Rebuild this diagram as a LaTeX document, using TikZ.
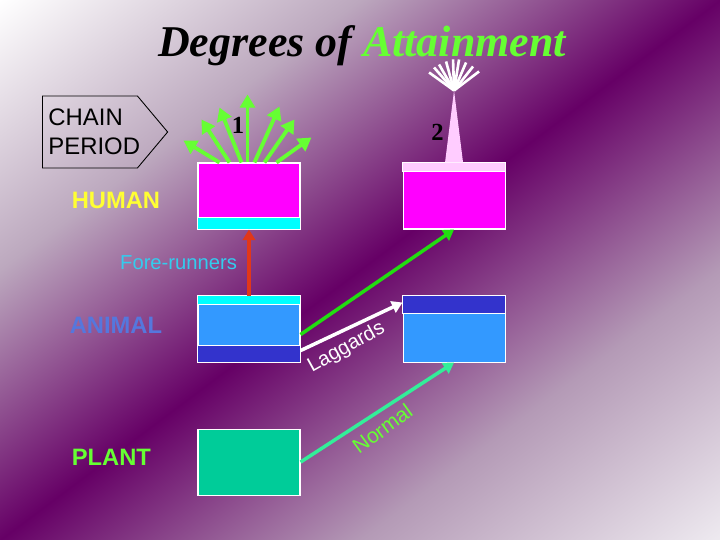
\documentclass[tikz,border=0pt]{standalone}
\usepackage{fontspec}
\setmainfont{Liberation Sans}
\newfontfamily\titlefont{Liberation Serif}
\usetikzlibrary{positioning, arrows.meta, shapes.symbols, calc}
\definecolor{bandpurple}{RGB}{102, 0, 102}
\definecolor{cornerlight}{RGB}{238, 234, 240}
\definecolor{upperlilac}{RGB}{188, 168, 190}
\definecolor{lowerlilac}{RGB}{180, 154, 182}
\definecolor{attaingreen}{RGB}{102, 255, 51}
\definecolor{humanmagenta}{RGB}{255, 0, 255}
\definecolor{stripcyan}{RGB}{0, 255, 255}
\definecolor{spirepink}{RGB}{255, 204, 255}
\definecolor{animallight}{RGB}{51, 153, 255}
\definecolor{animaldark}{RGB}{51, 51, 204}
\definecolor{plantgreen}{RGB}{0, 204, 153}
\definecolor{humanyellow}{RGB}{255, 255, 51}
\definecolor{animaltext}{RGB}{85, 119, 221}
\definecolor{forecyan}{RGB}{51, 204, 238}
\definecolor{forered}{RGB}{225, 55, 25}
\definecolor{risegreen}{RGB}{34, 221, 17}
\definecolor{normalgreen}{RGB}{51, 238, 153}
\pgfdeclareverticalshading{bgband}{100bp}{color(0bp)=(cornerlight); color(25bp)=(cornerlight);
    color(37.5bp)=(lowerlilac); color(50bp)=(bandpurple); color(62.5bp)=(upperlilac);
    color(75bp)=(white); color(100bp)=(white)}

\begin{document}
\begin{tikzpicture}[
    node distance=1.32cm and 2.04cm,
    box/.style={rectangle, draw=white, line width=0.6pt, minimum width=2.04cm, minimum height=1.32cm, inner sep=0pt},
    strip/.style={draw=white, line width=0.6pt},
    lbl/.style={font=\fontsize{13.5}{16}\selectfont\bfseries, inner sep=0pt},
    note/.style={font=\fontsize{11.5}{13}\selectfont, inner sep=1pt},
    num/.style={font=\titlefont\fontsize{14}{16}\selectfont\bfseries, inner sep=0pt},
    chain/.style={shape=signal, signal to=east, signal pointer angle=100, draw=black, line width=0.5pt,
                  minimum height=1.44cm, text width=1.66cm, align=left, inner xsep=0.12cm,
                  font=\fontsize{13.6}{16.4}\selectfont},
    arrow/.style={-{Triangle[length=6pt, width=7pt]}, line width=2pt},
    fanarrow/.style={-{Triangle[length=7.5pt, width=8.5pt]}, line width=2.2pt, attaingreen},
    spoke/.style={white, line width=1.5pt},
]

% ============ background ============
\useasboundingbox (0,0) rectangle (14.4,-10.8);
\begin{scope}
    \clip (0,0) rectangle (14.4,-10.8);
    \begin{scope}[transform canvas={rotate around={36.87:(7.2,-5.4)}}]
        \shade[shading=bgband] (-1.8,-14.04) rectangle (16.2,3.24);
    \end{scope}
\end{scope}

% ============ title ============
\node[font=\titlefont\fontsize{25}{30}\selectfont\bfseries\itshape, anchor=base] (title) at (7.24,-1.14)
    {Degrees of \textcolor{attaingreen}{Attainment}};

\node[chain, anchor=west] (chain) at (0.84,-2.64) {CHAIN\\PERIOD};

% ============ boxes ============
\node[box, fill=humanmagenta] (hum1) at (4.98,-3.92) {};
\node[box, fill=humanmagenta, right=of hum1] (hum2) {};
\node[box, fill=animallight, below=of hum1] (ani1) {};
\node[box, fill=animallight, right=of ani1] (ani2) {};
\node[box, fill=plantgreen, below=of ani1] (plant) {};

% strips
\filldraw[strip, fill=stripcyan] (hum1.south west) rectangle ([yshift=0.24cm]hum1.south east);
\filldraw[strip, fill=spirepink] (hum2.north west) rectangle ([yshift=-0.18cm]hum2.north east);
\filldraw[strip, fill=stripcyan] (ani1.north west) rectangle ([yshift=-0.18cm]ani1.north east);
\filldraw[strip, fill=animaldark] (ani1.south west) rectangle ([yshift=0.34cm]ani1.south east);
\filldraw[strip, fill=animaldark] (ani2.north west) rectangle ([yshift=-0.36cm]ani2.north east);

% ============ row labels ============
\node[lbl, text=humanyellow, left=2.52cm of hum1.west, anchor=west, yshift=-0.08cm] (human) {HUMAN};
\node[lbl, text=animaltext, left=2.56cm of ani1.west, anchor=west, yshift=0.08cm] (animal) {ANIMAL};
\node[lbl, text=attaingreen, left=2.52cm of plant.west, anchor=west, yshift=0.1cm] (plantlbl) {PLANT};

% ============ fan 1 ============
\foreach \sx/\ex/\ey in {0.44/-0.28/0.44, 0.64/0.08/0.86, 0.88/0.44/1.10, 1.00/1.00/1.36,
                         1.14/1.64/1.12, 1.34/1.94/0.86, 1.58/2.28/0.50}
    \draw[fanarrow] ([xshift=\sx cm]hum1.north west) -- ([shift={(\ex,\ey)}]hum1.north west);
\node[num, above=0.58cm of hum1.north, xshift=-0.22cm] (one) {1};

% ============ spire 2 ============
\coordinate[above=1.44cm of hum2.north] (apex);
\fill[spirepink] ([xshift=-0.18cm]hum2.north) -- ([xshift=0.18cm]hum2.north) -- (apex) -- cycle;
\foreach \dx/\dy in {-0.50/0.36, -0.40/0.46, -0.30/0.52, -0.16/0.58, -0.02/0.62,
                     0.10/0.62, 0.24/0.56, 0.38/0.48, 0.50/0.38}
    \draw[spoke] (apex) -- ++(\dx,\dy);
\node[num, above=0.44cm of hum2.north, xshift=-0.33cm] (two) {2};

% ============ arrows ============
\draw[arrow, forered] (ani1) -- node[note, text=forecyan, left=0.17cm] (fore) {Fore-runners} (hum1);
\draw[arrow, risegreen] ([yshift=-0.11cm]ani1.east) -- (hum2.south);
\draw[arrow, white] ([yshift=0.24cm]ani1.south east) -- node[note, text=white, xshift=-0.1cm, yshift=-0.42cm, rotate=29] (lag) {Laggards} ([yshift=-0.14cm]ani2.north west);
\draw[arrow, normalgreen] (plant.east) -- node[note, text=attaingreen, font=\fontsize{12}{14}\selectfont, xshift=0.1cm, yshift=-0.33cm, rotate=36] (normal) {Normal} (ani2.south);

\end{tikzpicture}
\end{document}
